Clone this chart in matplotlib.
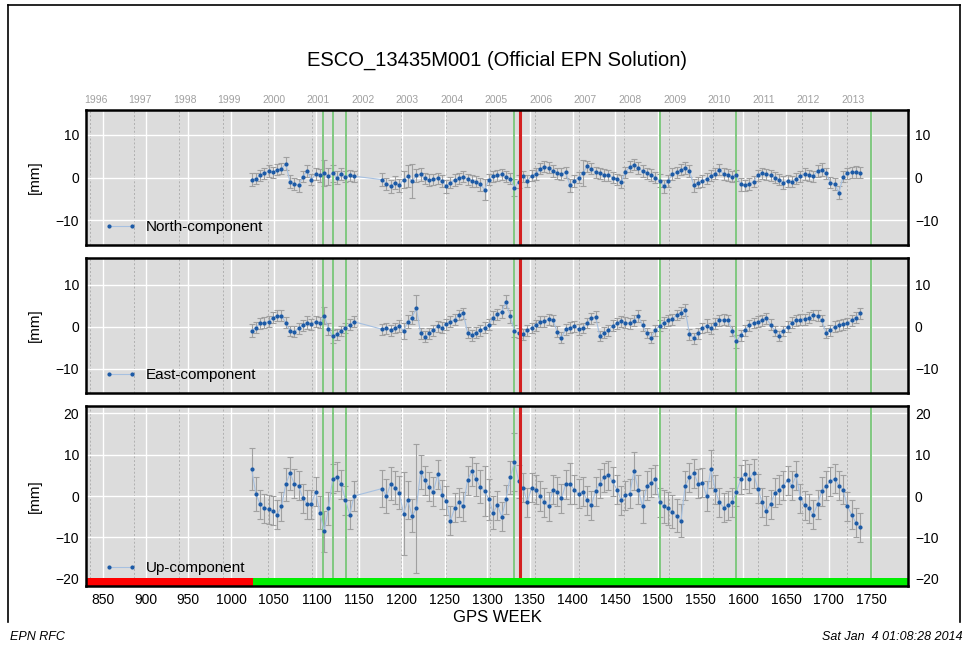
import datetime as dt

import matplotlib
matplotlib.use("Agg")
import matplotlib.pyplot as plt
from matplotlib.lines import Line2D
from matplotlib.transforms import blended_transform_factory

plt.rcParams["font.family"] = ["Liberation Sans", "DejaVu Sans"]

# GPS weeks (two observation blocks, the gap is bridged by the line)
weeks = [
    1024, 1029, 1034, 1039, 1044, 1049, 1054, 1059, 1064, 1069,
    1074, 1079, 1084, 1089, 1094, 1099, 1104, 1109, 1114, 1119,
    1124, 1129, 1134, 1139, 1144,
    1177, 1182, 1187, 1192, 1197, 1202, 1207, 1212, 1217, 1222,
    1227, 1232, 1237, 1242, 1247, 1252, 1257, 1262, 1267, 1272,
    1277, 1282, 1287, 1292, 1297, 1302, 1307, 1312, 1317, 1322,
    1327, 1332, 1337, 1342, 1347, 1352, 1357, 1362, 1367, 1372,
    1377, 1382, 1387, 1392, 1397, 1402, 1407, 1412, 1417, 1422,
    1427, 1432, 1437, 1442, 1447, 1452, 1457, 1462, 1467, 1472,
    1477, 1482, 1487, 1492, 1497, 1502, 1507, 1512, 1517, 1522,
    1527, 1532, 1537, 1542, 1547, 1552, 1557, 1562, 1567, 1572,
    1577, 1582, 1587, 1592, 1597, 1602, 1607, 1612, 1617, 1622,
    1627, 1632, 1637, 1642, 1647, 1652, 1657, 1662, 1667, 1672,
    1677, 1682, 1687, 1692, 1697, 1702, 1707, 1712, 1717, 1722,
    1727, 1732, 1737,
]

north = [
    -0.5, -0.3, 0.5, 1.0, 1.5, 1.2, 1.8, 2.0, 3.2, -1.0,
    -1.5, -1.8, 0.2, 1.5, -0.5, 0.8, 0.5, 1.0, 0.3, 1.0,
    0.0, 0.8, 0.2, 0.5, 0.3,
    -0.5, -1.5, -2.0, -1.2, -1.8, -0.5, 0.3, -0.8, 0.5, 0.8,
    -0.2, -0.6, -0.4, -0.2, -0.8, -2.0, -1.2, -0.6, -0.2, 0.2,
    -0.4, -0.8, -1.0, -1.6, -2.8, -0.5, 0.3, 0.5, 0.7, 0.2,
    -0.3, -2.4, -1.0, 0.3, -0.8, 0.4, 0.8, 2.0, 2.5, 2.3,
    1.5, 1.0, 0.8, 1.2, -1.8, -0.8, 0.0, 1.0, 2.6, 2.0,
    1.2, 1.0, 0.6, 0.5, 0.0, -0.4, -1.0, 1.2, 2.5, 3.0,
    2.2, 1.5, 1.0, 0.6, 0.0, -0.8, -2.0, -0.8, 0.8, 1.2,
    1.8, 2.2, 1.5, -1.8, -1.2, -0.8, -0.3, 0.4, 0.9, 1.8,
    0.8, 0.6, 0.2, 0.5, -1.6, -1.8, -1.5, -1.0, 0.5, 1.0,
    0.7, 0.5, 0.0, -0.5, -1.2, -0.8, -1.0, -0.3, 0.3, 0.8,
    0.5, 0.3, 1.5, 1.8, 1.0, -1.2, -1.5, -3.5, 0.2, 1.0,
    1.2, 1.3, 1.1,
]

east = [
    -0.9, -0.2, 0.8, 1.0, 1.2, 2.2, 2.6, 2.6, 1.0, -1.0,
    -1.2, -0.4, 0.4, 1.0, 0.6, 1.2, 1.0, 2.6, -0.5, -2.3,
    -1.8, -1.0, -0.3, 0.5, 1.2,
    -0.6, -0.4, -0.8, -0.3, 0.2, -1.0, 1.2, 2.2, 4.5, -1.6,
    -2.4, -1.6, -0.8, 0.1, -0.2, 0.6, 1.2, 1.7, 2.8, 3.2,
    -1.4, -2.0, -1.4, -0.8, -0.2, 0.5, 2.2, 3.0, 3.6, 6.0,
    2.5, -1.0, -1.5, -1.8, -0.8, -0.3, 0.4, 1.2, 1.3, 1.8,
    1.6, -1.2, -2.6, -0.6, -0.2, 0.1, -0.6, -0.3, 0.9, 2.0,
    2.4, -2.2, -1.4, -0.8, 0.2, 0.8, 1.3, 1.0, 0.8, 1.4,
    2.6, 0.4, -1.5, -2.6, -0.8, 0.3, 1.0, 1.5, 1.8, 2.8,
    3.3, 4.0, -1.8, -2.7, -1.6, -0.3, 0.3, -0.4, 0.7, 1.5,
    1.7, 1.6, -1.0, -3.5, -2.0, -0.8, 0.4, 0.9, 1.2, 1.5,
    2.0, 0.5, -1.0, -2.2, -1.0, 0.0, 1.0, 1.5, 1.7, 1.8,
    2.2, 2.8, 2.6, 1.5, -1.5, -0.8, 0.0, 0.4, 0.6, 0.9,
    1.5, 2.2, 3.2,
]

up = [
    6.5, 0.5, -2.0, -3.0, -3.2, -3.6, -4.5, -2.5, 2.8, 5.5,
    3.0, 2.5, -0.5, -2.0, -2.0, 1.0, -4.0, -8.5, -3.0, 4.2,
    4.6, 2.8, -1.0, -4.5, 0.0,
    1.8, 0.0, 3.0, 2.0, 0.8, -4.3, -1.0, -4.8, -3.0, 5.8,
    3.8, 2.2, 1.0, 5.2, 0.3, -1.2, -6.0, -2.8, -1.5, -2.5,
    3.8, 6.0, 4.0, 2.2, 1.2, -0.8, -4.0, -2.2, -5.0, -0.8,
    4.5, 8.2, 3.5, 2.0, -1.5, 2.0, 1.5, 0.0, -1.5, -2.5,
    1.5, 1.0, -0.5, 2.8, 3.0, 1.5, 0.5, 1.0, -1.0, -2.2,
    1.2, 3.0, 4.5, 5.0, 3.5, 1.5, -1.0, 0.2, 0.5, 6.0,
    1.5, -2.5, 2.5, 3.2, 4.0, -1.5, -2.5, -3.0, -3.8, -4.8,
    -6.0, 2.5, 4.5, 5.5, 3.0, 3.2, 0.0, 6.5, 1.5, -1.5,
    -2.8, -2.2, -1.5, 1.0, 4.0, 5.2, 4.2, 5.5, 1.8, -1.5,
    -3.5, -2.0, 0.8, 1.5, 2.5, 3.8, 2.5, 5.0, -0.5, -2.2,
    -3.0, -4.5, -2.0, 1.2, 2.5, 3.5, 4.2, 2.5, 1.5, -2.5,
    -4.5, -6.5, -7.5,
]

north_sig = [
    1.5, 1.3, 1.3, 1.3, 1.3, 1.3, 1.3, 1.3, 1.5, 1.5,
    1.3, 1.5, 1.3, 1.3, 1.3, 1.3, 1.5, 3.0, 2.0, 2.0,
    1.5, 1.3, 1.3, 1.3, 1.3,
    1.5, 1.5, 1.5, 1.5, 1.5, 2.0, 2.5, 4.0, 1.5, 1.5,
    1.3, 1.3, 1.3, 1.3, 1.3, 1.5, 1.3, 1.3, 1.3, 1.3,
    1.3, 1.3, 1.3, 1.5, 2.5, 1.3, 1.3, 1.3, 1.3, 1.3,
    1.3, 2.0, 1.5, 1.3, 1.3, 1.3, 1.3, 1.3, 1.3, 1.3,
    1.3, 1.3, 1.3, 1.3, 1.5, 1.3, 1.3, 3.0, 1.3, 1.3,
    1.3, 1.3, 1.3, 1.3, 1.3, 1.3, 1.5, 1.3, 1.3, 1.3,
    1.3, 1.3, 1.3, 1.3, 1.3, 1.5, 1.5, 1.3, 1.3, 1.3,
    1.3, 1.5, 1.3, 1.5, 1.3, 1.3, 1.3, 1.3, 1.3, 1.3,
    1.3, 1.3, 1.3, 1.3, 1.5, 1.3, 1.3, 1.3, 1.3, 1.3,
    1.3, 1.3, 1.3, 1.3, 1.5, 1.3, 1.3, 1.3, 1.3, 1.3,
    1.3, 1.3, 1.3, 1.5, 1.3, 1.3, 1.3, 1.5, 1.3, 1.3,
    1.3, 1.3, 1.3,
]

east_sig = [
    1.5, 1.3, 1.3, 1.3, 1.3, 1.3, 1.3, 1.3, 1.3, 1.3,
    1.3, 1.3, 1.3, 1.5, 1.3, 1.3, 1.3, 2.0, 1.5, 1.5,
    1.3, 1.3, 1.3, 1.3, 1.3,
    1.3, 1.3, 1.3, 1.3, 1.5, 2.0, 1.5, 1.5, 3.0, 1.3,
    1.3, 1.3, 1.3, 1.3, 1.3, 1.3, 1.3, 1.3, 1.3, 1.3,
    1.3, 1.3, 1.3, 1.3, 1.3, 1.3, 1.5, 1.3, 1.5, 1.5,
    1.5, 1.5, 1.3, 1.3, 1.3, 1.3, 1.3, 1.3, 1.3, 1.3,
    1.3, 1.3, 1.3, 1.3, 1.3, 1.3, 1.3, 1.3, 1.3, 1.3,
    1.3, 1.3, 1.3, 1.3, 1.3, 1.3, 1.3, 1.3, 1.3, 1.3,
    1.5, 1.3, 1.3, 1.3, 1.3, 1.3, 1.3, 1.3, 1.3, 1.3,
    1.3, 1.5, 1.3, 1.3, 1.3, 1.3, 1.5, 1.3, 1.3, 1.3,
    1.3, 1.3, 1.3, 1.5, 1.3, 1.3, 1.3, 1.3, 1.3, 1.3,
    1.3, 1.3, 1.3, 1.3, 1.3, 1.3, 1.3, 1.3, 1.3, 1.3,
    1.3, 1.3, 1.3, 1.3, 1.3, 1.3, 1.3, 1.3, 1.3, 1.3,
    1.3, 1.3, 1.3,
]

up_sig = [
    5.0, 4.0, 3.5, 3.5, 3.5, 3.5, 3.5, 3.5, 4.0, 4.0,
    3.5, 3.5, 3.5, 3.5, 3.5, 3.5, 4.0, 5.0, 4.0, 3.5,
    3.5, 3.5, 3.5, 3.5, 3.5,
    4.5, 4.0, 4.0, 4.0, 4.0, 10.0, 4.5, 4.0, 15.5, 4.0,
    3.5, 3.5, 3.5, 3.5, 3.5, 3.5, 3.5, 3.5, 3.5, 3.5,
    3.5, 3.5, 4.0, 4.0, 6.0, 5.0, 4.0, 3.5, 3.5, 3.5,
    4.0, 7.0, 4.0, 3.5, 3.5, 3.5, 3.5, 3.5, 3.5, 3.5,
    3.5, 3.5, 3.5, 3.5, 5.0, 3.5, 3.5, 3.5, 3.5, 3.5,
    3.5, 3.5, 3.5, 3.5, 3.5, 3.5, 3.5, 3.5, 3.5, 4.5,
    3.5, 4.0, 3.5, 3.5, 3.5, 3.5, 4.0, 4.0, 4.0, 4.0,
    4.0, 3.5, 3.5, 3.5, 3.5, 3.5, 3.5, 4.5, 3.5, 3.5,
    3.5, 3.5, 3.5, 3.5, 3.5, 3.5, 3.5, 3.5, 3.5, 3.5,
    3.5, 3.5, 3.5, 3.5, 3.5, 3.5, 3.5, 3.5, 3.5, 3.5,
    3.5, 3.5, 3.5, 3.5, 3.5, 3.5, 3.5, 3.5, 3.5, 3.5,
    3.5, 3.5, 3.5,
]

event_weeks = [1108, 1119, 1134.5, 1331, 1502, 1592, 1750]
red_week = 1338
status_red = (830, 1026)
status_green = (1026, 1793)
years = list(range(1996, 2014))
x_ticks = list(range(850, 1751, 50))

XLIM = (830, 1793)
BLUE = "#1c5aa6"
LINE = "#a6c0e0"
ERR = "#a0a0a0"
BG = "#dcdcdc"
GREEN = "#80c880"
RED = "#d42020"

W, H = 967, 649
fig = plt.figure(figsize=(W / 100, H / 100), dpi=100)


def px_axes(top, bottom, left=86, right=908):
    return fig.add_axes([left / W, (H - bottom) / H, (right - left) / W, (bottom - top) / H])


year_weeks = [(dt.date(y, 1, 1) - dt.date(1980, 1, 6)).days / 7 for y in years]

panels = [
    (px_axes(110, 245), north, north_sig, "North-component", (-15.7, 15.7), [-10, 0, 10]),
    (px_axes(258, 393), east, east_sig, "East-component", (-15.8, 16.4), [-10, 0, 10]),
    (px_axes(406, 586), up, up_sig, "Up-component", (-21.7, 21.7), [-20, -10, 0, 10, 20]),
]

for i, (ax, vals, sig, label, ylim, yt) in enumerate(panels):
    ax.set_facecolor(BG)
    ax.set_xlim(*XLIM)
    ax.set_ylim(*ylim)
    ax.set_xticks(x_ticks)
    ax.set_yticks(yt)
    ax.grid(True, color="white", linewidth=1.0, zorder=0)
    ax.set_axisbelow(True)
    for yw in year_weeks:
        ax.axvline(yw, color="#b0b0b0", linestyle=(0, (2, 2)), linewidth=0.7, zorder=0.5)

    ax.errorbar(weeks, vals, yerr=sig, fmt="none", ecolor=ERR, elinewidth=0.8,
                capsize=2, capthick=0.8, zorder=2)
    for ew in event_weeks:
        ax.axvline(ew, color=GREEN, linewidth=1.4, zorder=2.5)
    ax.plot(weeks, vals, color=LINE, linewidth=0.8, marker="o", markersize=2.0,
            markerfacecolor=BLUE, markeredgecolor=BLUE, zorder=3, label=label)
    ax.axvline(red_week, color=RED, linewidth=2.2, zorder=4)

    ax.tick_params(axis="both", length=0, labelsize=10, pad=5,
                   right=True, labelright=True, labelleft=True)
    if i < 2:
        ax.tick_params(axis="x", labelbottom=False)
    for s in ax.spines.values():
        s.set_linewidth(1.8)
        s.set_zorder(6)
    ax.set_ylabel("[mm]", fontsize=11, labelpad=10)
    ax.legend(loc="lower left", bbox_to_anchor=(0.01, 0.0), frameon=False,
              numpoints=2, handlelength=2.1, handletextpad=0.6, fontsize=11,
              borderaxespad=0.3)

ax_top, ax_up = panels[0][0], panels[2][0]

# year labels along the top
trans = blended_transform_factory(ax_top.transData, ax_top.transAxes)
for y, yw in zip(years, year_weeks):
    ax_top.text(yw + 7, 1.075, str(y), transform=trans, ha="center", va="center",
                fontsize=7.5, color="#a0a0a0")

# station status bar
ax_up.broken_barh([(status_red[0], status_red[1] - status_red[0])], (-21.7, 2.0),
                  facecolors="#ff0000", zorder=5)
ax_up.broken_barh([(status_green[0], status_green[1] - status_green[0])], (-21.7, 2.0),
                  facecolors="#00ee00", zorder=5)
ax_up.set_xlabel("GPS WEEK", fontsize=12, labelpad=2)

fig.text(497 / W, 1 - 60 / H, "ESCO_13435M001 (Official EPN Solution)",
         ha="center", va="center", fontsize=14.5)
fig.text(10 / W, 1 - 637 / H, "EPN RFC", ha="left", va="center", fontsize=9, style="italic")
fig.text(963 / W, 1 - 637 / H, "Sat Jan  4 01:08:28 2014", ha="right", va="center",
         fontsize=9, style="italic")

# outer frame
for xs, ys in [([8, 960], [5, 5]), ([8, 8], [5, 622]), ([960, 960], [5, 622])]:
    fig.add_artist(Line2D([x / W for x in xs], [1 - y / H for y in ys],
                          color="black", linewidth=1.2))

fig.savefig("out.png", dpi=100)
